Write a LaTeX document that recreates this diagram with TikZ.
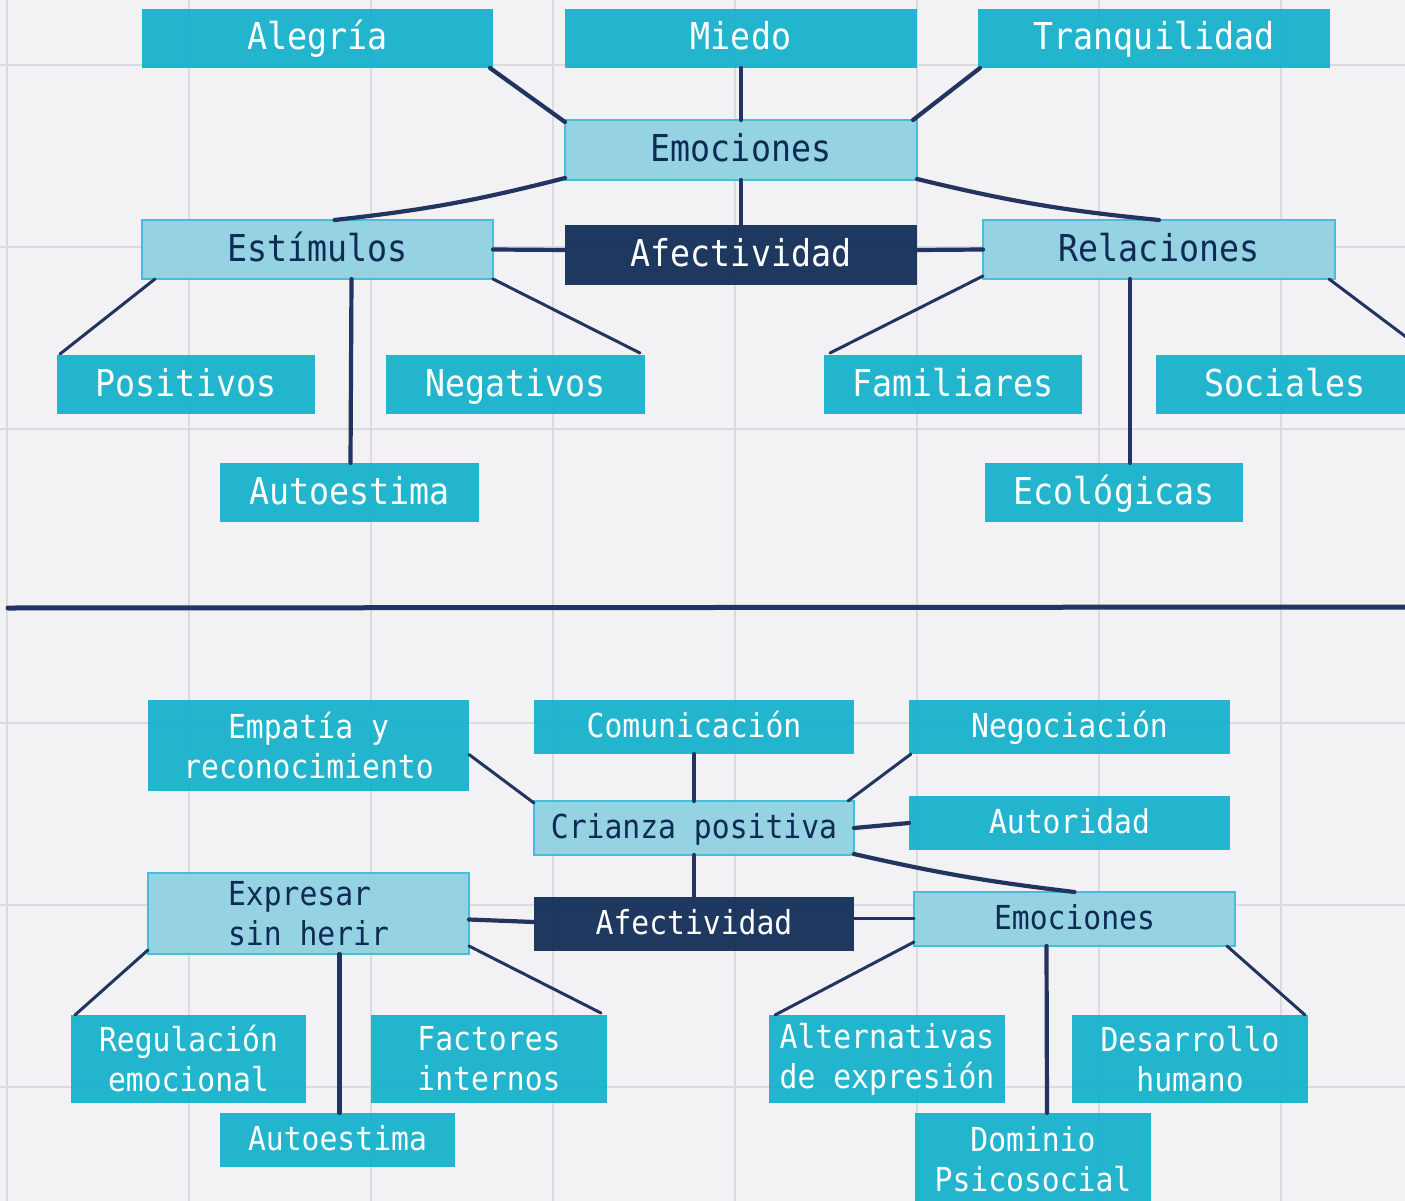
\documentclass[tikz,border=0pt]{standalone}
\usepackage{fontspec}
\usetikzlibrary{calc}
\newfontfamily\boxfont[FakeStretch=0.9]{DejaVu Sans Mono}
\definecolor{paper}{HTML}{F2F2F4}
\definecolor{gridc}{HTML}{DADAE3}
\definecolor{cyanbox}{HTML}{14B1CC}
\definecolor{lightbox}{HTML}{8ED1E2}
\definecolor{lightedge}{HTML}{45BFD8}
\definecolor{darkbox}{HTML}{0E2A55}
\definecolor{navyline}{HTML}{22345F}
\begin{document}
\begin{tikzpicture}[x=1pt,y=-1pt,
  base/.style={inner sep=0pt, outer sep=0pt, anchor=north west, fill opacity=0.93, text opacity=1},
  bigtxt/.style={font=\boxfont\fontsize{37}{40}\selectfont, text height=30pt, text depth=7pt},
  smalltxt/.style={font=\boxfont\fontsize{33}{40}\selectfont, text height=26pt, text depth=6pt},
  twoline/.style={font=\boxfont\fontsize{33}{40}\selectfont},
  cbox/.style={base, fill=cyanbox, text=white},
  lbox/.style={base, fill=lightbox, draw=lightedge, line width=2.5pt, text=darkbox},
  dbox/.style={base, fill=darkbox, text=white},
  conn/.style={draw=navyline, line width=4.2pt, line cap=round},
  thinconn/.style={draw=navyline, line width=3pt, line cap=round}
]
% background
\fill[paper] (0,0) rectangle (1405,1201);
\useasboundingbox (0,0) rectangle (1405,1201);
% grid
\foreach \gx in {7,189,371,553,735,917,1099,1281}
  \draw[gridc, line width=2.5pt] (\gx,0) -- (\gx,1201);
\foreach \gy in {65,247,429,723,905,1087}
  \draw[gridc, line width=2.5pt] (0,\gy) -- (1405,\gy);

% ===== TOP SECTION =====
\node[cbox,bigtxt, minimum width=351pt, minimum height=59pt] (alegria) at (142,9) {Alegría};
\node[cbox,bigtxt, minimum width=352pt, minimum height=59pt] (miedo) at (565,9) {Miedo};
\node[cbox,bigtxt, minimum width=352pt, minimum height=59pt] (tranq) at (978,9) {Tranquilidad};
\node[lbox,bigtxt, minimum width=352pt, minimum height=60pt] (emo) at (565,120) {Emociones};
\node[lbox,bigtxt, minimum width=351pt, minimum height=59pt] (estim) at (142,220) {Estímulos};
\node[dbox,bigtxt, minimum width=352pt, minimum height=60pt] (afec) at (565,225) {Afectividad};
\node[lbox,bigtxt, minimum width=352pt, minimum height=59pt] (rel) at (983,220) {Relaciones};
\node[cbox,bigtxt, minimum width=258pt, minimum height=59pt] (posit) at (57,355) {Positivos};
\node[cbox,bigtxt, minimum width=259pt, minimum height=59pt] (negat) at (386,355) {Negativos};
\node[cbox,bigtxt, minimum width=259pt, minimum height=59pt] (autoa) at (220,463) {Autoestima};
\node[cbox,bigtxt, minimum width=258pt, minimum height=59pt] (famil) at (824,355) {Familiares};
\node[cbox,bigtxt, minimum width=258pt, minimum height=59pt] (socia) at (1156,355) {Sociales};
\node[cbox,bigtxt, minimum width=258pt, minimum height=59pt] (ecolo) at (985,463) {Ecológicas};

% top connectors
\draw[conn] ($(alegria.south east)+(-3,0)$) -- ($(emo.north west)+(0,2)$);
\draw[conn] (miedo.south) -- (emo.north);
\draw[conn] ($(tranq.south west)+(2,0)$) -- ($(emo.north east)+(-4,0)$);
\draw[conn] ($(emo.south west)+(0,-2)$) to[bend left=4] ($(estim.north)+(17,0)$);
\draw[conn] (emo.south) -- (afec.north);
\draw[conn] ($(emo.south east)+(0,-1)$) to[bend right=4] ($(rel.north)+(0,0)$);
\draw[conn] (estim.east) -- ($(afec.west)+(0,-5)$);
\draw[conn] ($(afec.east)+(0,-5)$) -- (rel.west);
\draw[thinconn] ($(estim.south west)+(13,0)$) -- ($(posit.north west)+(3,-1)$);
\draw[conn] ($(estim.south)+(34,0)$) -- ($(autoa.north)+(1,0)$);
\draw[thinconn] (estim.south east) -- ($(negat.north east)+(-5,-2)$);
\draw[thinconn] ($(rel.south west)+(0,-3)$) -- ($(famil.north west)+(6,-2)$);
\draw[conn] ($(rel.south)+(-29,0)$) -- ($(ecolo.north)+(16,0)$);
\draw[thinconn] ($(rel.south east)+(-6,0)$) -- ($(socia.north east)+(8,-6)$);

% divider
\coordinate (divL) at (8,608);
\coordinate (divR) at (1405,607);
\draw[navyline, line width=5pt, line cap=round] (divL) -- (divR);

% ===== BOTTOM SECTION =====
\node[cbox,twoline, minimum width=321pt, minimum height=91pt, align=center] (empat) at (148,700) {Empatía y\\reconocimiento};
\node[cbox,smalltxt, minimum width=320pt, minimum height=54pt] (comun) at (534,700) {Comunicación};
\node[cbox,smalltxt, minimum width=321pt, minimum height=54pt] (negoc) at (909,700) {Negociación};
\node[lbox,smalltxt, minimum width=320pt, minimum height=54pt] (crian) at (534,801) {Crianza positiva};
\node[cbox,smalltxt, minimum width=321pt, minimum height=54pt] (autor) at (909,796) {Autoridad};
\node[lbox,twoline, minimum width=321pt, minimum height=81pt, align=left] (expre) at (148,873) {Expresar\\sin herir};
\node[dbox,smalltxt, minimum width=320pt, minimum height=54pt] (afecb) at (534,897) {Afectividad};
\node[lbox,smalltxt, minimum width=321pt, minimum height=54pt] (emob) at (914,892) {Emociones};
\node[cbox,twoline, minimum width=235pt, minimum height=88pt, align=center] (regul) at (71,1015) {Regulación\\emocional};
\node[cbox,twoline, minimum width=236pt, minimum height=88pt, align=center] (factr) at (371,1015) {Factores\\internos};
\node[cbox,smalltxt, minimum width=235pt, minimum height=54pt] (autob) at (220,1113) {Autoestima};
\node[cbox,twoline, minimum width=236pt, minimum height=88pt, align=left] (alter) at (769,1015) {Alternativas\\de expresión};
\node[cbox,twoline, minimum width=236pt, minimum height=88pt, align=center] (desar) at (1072,1015) {Desarrollo\\humano};
\node[cbox,twoline, minimum width=236pt, minimum height=92pt, align=center] (domin) at (915,1113) {Dominio\\Psicosocial};

% bottom connectors
\draw[thinconn] ($(empat.east)+(0,9)$) -- ($(crian.north west)+(0,2)$);
\draw[conn] (comun.south) -- (crian.north);
\draw[thinconn] ($(negoc.south west)+(2,0)$) -- ($(crian.north east)+(-6,0)$);
\draw[conn] (crian.east) -- (autor.west);
\draw[conn] (crian.south) -- (afecb.north);
\draw[conn] ($(crian.south east)+(0,-1)$) to[bend right=3] ($(emob.north)+(0,0)$);
\draw[conn] ($(expre.east)+(0,6)$) -- ($(afecb.west)+(0,-2)$);
\draw[thinconn] ($(afecb.east)+(0,-6)$) -- ($(emob.west)+(0,-1)$);
\draw[thinconn] ($(expre.south west)+(0,-4)$) -- ($(regul.north west)+(4,0)$);
\draw[conn] ($(expre.south)+(31,0)$) -- ($(autob.north)+(2,0)$);
\draw[thinconn] ($(expre.south east)+(0,-8)$) -- ($(factr.north east)+(-6,-2)$);
\draw[thinconn] ($(emob.south west)+(0,-4)$) -- ($(alter.north west)+(6,0)$);
\draw[conn] ($(emob.south)+(-28,0)$) -- ($(domin.north)+(14,0)$);
\draw[thinconn] ($(emob.south east)+(-8,0)$) -- ($(desar.north east)+(-3,0)$);

\end{tikzpicture}
\end{document}
